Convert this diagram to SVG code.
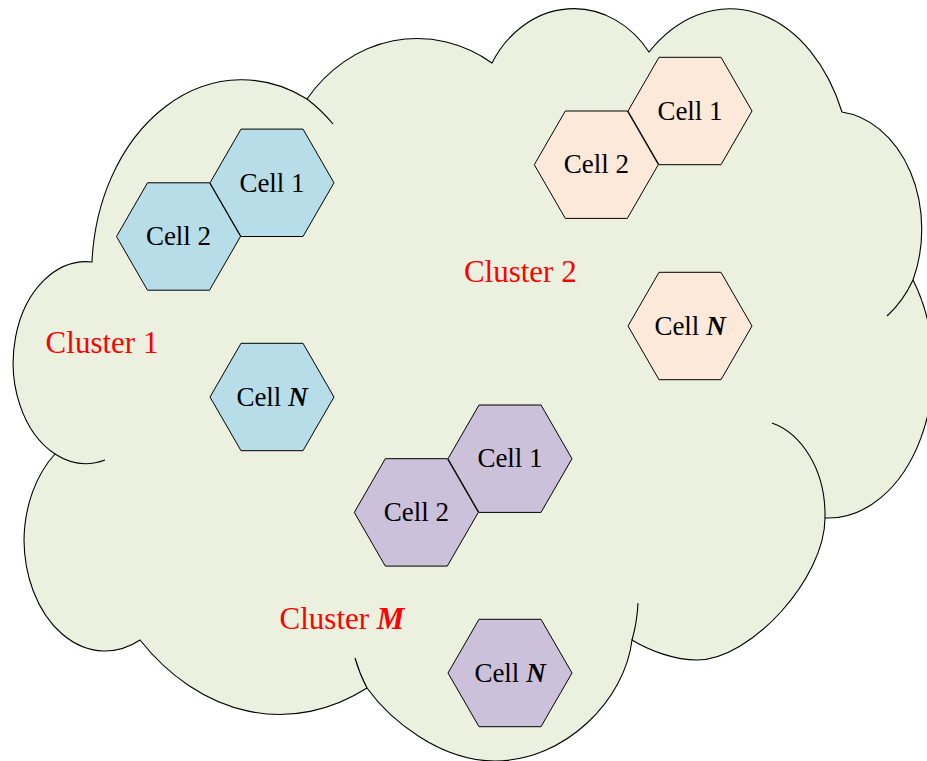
<svg xmlns="http://www.w3.org/2000/svg" xmlns:xlink="http://www.w3.org/1999/xlink" width="927" height="761" viewBox="0 0 927 761">
<style>
.cloud{fill:#ebf1de;stroke:#000;stroke-width:1.1}
.inner{fill:none;stroke:#000;stroke-width:1.1}
.hex{stroke:#000;stroke-width:1}
.blue{fill:#b7dee8}
.orange{fill:#fde9d9}
.purple{fill:#ccc1da}
.cell{font-family:"Liberation Serif","Times New Roman",serif;font-size:27px;fill:#000;text-anchor:middle}
.cluster{font-family:"Liberation Serif","Times New Roman",serif;font-size:31px;fill:#ff0000;text-anchor:middle}
.bi{font-weight:bold;font-style:italic}
</style>
<defs>
<polygon id="hexshape" points="-62,0 -31,-53.7 31,-53.7 62,0 31,53.7 -31,53.7"/>
</defs>
<g id="cloud">
<path class="cloud" d="M92,262 A150 193 0 0 1 307,99 A140 158 0 0 1 492,63 A95 111 0 0 1 649,52 A122 171 0 0 1 842,112 A90 118 0 0 1 913,280 A105 150 0 0 1 825,518 C825,578 751,660 697,660 C675,660 650,651 632,640 C625,700 565,761 495,761 C440,761 390,720 367,688 A207 284 0 0 1 140,640 A81 112 0 0 1 24,540 A81 112 0 0 1 55,454 A73 101 0 0 1 92,262 Z"/>
<path class="inner" d="M307,99 A150 193 0 0 1 333,124"/>
<path class="inner" d="M913,280 A90 118 0 0 1 887,316"/>
<path class="inner" d="M772,423 C800,433 826,468 825,518"/>
<path class="inner" d="M632,640 A147 153 0 0 0 638,603"/>
<path class="inner" d="M367,688 A147 153 0 0 1 355,658"/>
<path class="inner" d="M55,454 A73 101 0 0 0 105,460"/>
</g>
<g id="cluster1">
<g id="c1-cell1"><use xlink:href="#hexshape" href="#hexshape" class="hex blue" x="272" y="182.8"/><text class="cell" x="272" y="191.5">Cell 1</text></g>
<g id="c1-cell2"><use xlink:href="#hexshape" href="#hexshape" class="hex blue" x="178.5" y="236.5"/><text class="cell" x="178.5" y="245">Cell 2</text></g>
<g id="c1-cellN"><use xlink:href="#hexshape" href="#hexshape" class="hex blue" x="272" y="397"/><text class="cell" x="272" y="405.5">Cell <tspan class="bi">N</tspan></text></g>
<text id="c1-label" class="cluster" x="102" y="352.7">Cluster 1</text>
</g>
<g id="cluster2">
<g id="c2-cell1"><use xlink:href="#hexshape" href="#hexshape" class="hex orange" x="690" y="111"/><text class="cell" x="690" y="119.5">Cell 1</text></g>
<g id="c2-cell2"><use xlink:href="#hexshape" href="#hexshape" class="hex orange" x="596.3" y="164.7"/><text class="cell" x="596.3" y="173.2">Cell 2</text></g>
<g id="c2-cellN"><use xlink:href="#hexshape" href="#hexshape" class="hex orange" x="690" y="326"/><text class="cell" x="690" y="334.5">Cell <tspan class="bi">N</tspan></text></g>
<text id="c2-label" class="cluster" x="520.3" y="281.7">Cluster 2</text>
</g>
<g id="clusterM">
<g id="cM-cell1"><use xlink:href="#hexshape" href="#hexshape" class="hex purple" x="510" y="458.7"/><text class="cell" x="510" y="467.2">Cell 1</text></g>
<g id="cM-cell2"><use xlink:href="#hexshape" href="#hexshape" class="hex purple" x="416.3" y="512.4"/><text class="cell" x="416.3" y="520.9">Cell 2</text></g>
<g id="cM-cellN"><use xlink:href="#hexshape" href="#hexshape" class="hex purple" x="510" y="673"/><text class="cell" x="510" y="681.5">Cell <tspan class="bi">N</tspan></text></g>
<text id="cM-label" class="cluster" x="342" y="629.3">Cluster <tspan class="bi">M</tspan></text>
</g>
<g id="connectors"/>
</svg>
